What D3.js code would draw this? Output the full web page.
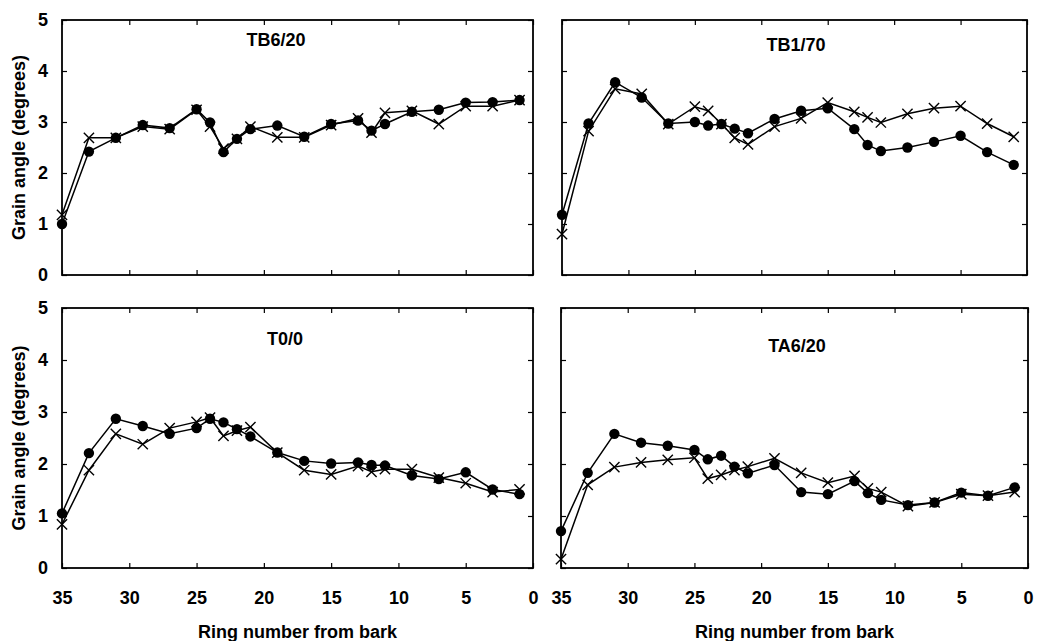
<!DOCTYPE html>
<html>
<head>
<meta charset="utf-8">
<script src="https://cdn.jsdelivr.net/npm/d3@7"></script>
<style>
  body { margin: 0; background: #fff; }
  svg text { font-family: "Liberation Sans", Arial, sans-serif; font-weight: bold; fill: #000; }
</style>
</head>
<body>
<div id="chart"></div>
<script>
// ring number from bark, same for every panel
var rings = [35, 33, 31, 29, 27, 25, 24, 23, 22, 21, 19, 17, 15, 13, 12, 11, 9, 7, 5, 3, 1];

var panelNames = ["TB6/20", "TB1/70", "T0/0", "TA6/20"];

// filled circles
var tb620Dot = [1.00, 2.42, 2.69, 2.94, 2.88, 3.25, 2.99, 2.41, 2.67, 2.86, 2.93, 2.71, 2.96, 3.03, 2.83, 2.96, 3.20, 3.24, 3.38, 3.39, 3.43];
var tb170Dot = [1.18, 2.97, 3.78, 3.48, 2.97, 3.00, 2.93, 2.96, 2.87, 2.78, 3.06, 3.22, 3.27, 2.86, 2.55, 2.43, 2.50, 2.61, 2.73, 2.41, 2.16];
var t00Dot   = [1.05, 2.21, 2.87, 2.73, 2.58, 2.69, 2.87, 2.80, 2.67, 2.53, 2.22, 2.06, 2.01, 2.03, 1.98, 1.97, 1.78, 1.71, 1.84, 1.51, 1.42];
var ta620Dot = [0.71, 1.83, 2.58, 2.41, 2.35, 2.27, 2.09, 2.16, 1.95, 1.82, 1.98, 1.46, 1.42, 1.67, 1.44, 1.31, 1.21, 1.26, 1.45, 1.39, 1.55];

// crosses
var tb620Cross = [1.18, 2.69, 2.69, 2.91, 2.86, 3.24, 2.91, 2.48, 2.67, 2.91, 2.70, 2.70, 2.94, 3.07, 2.79, 3.18, 3.22, 2.96, 3.31, 3.31, 3.43];
var tb170Cross = [0.80, 2.82, 3.65, 3.55, 2.96, 3.30, 3.22, 2.96, 2.69, 2.56, 2.91, 3.07, 3.38, 3.20, 3.09, 2.99, 3.16, 3.27, 3.31, 2.97, 2.71];
var t00Cross   = [0.84, 1.88, 2.58, 2.38, 2.69, 2.81, 2.89, 2.54, 2.64, 2.71, 2.22, 1.88, 1.80, 1.96, 1.85, 1.90, 1.90, 1.74, 1.63, 1.46, 1.51];
var ta620Cross = [0.17, 1.60, 1.94, 2.03, 2.08, 2.12, 1.72, 1.79, 1.88, 1.95, 2.11, 1.83, 1.64, 1.77, 1.53, 1.46, 1.19, 1.26, 1.42, 1.39, 1.46];

var xTicks = [35, 30, 25, 20, 15, 10, 5, 0];
var yTicks = [0, 1, 2, 3, 4, 5];

var dots = [tb620Dot, tb170Dot, t00Dot, ta620Dot];
var crosses = [tb620Cross, tb170Cross, t00Cross, ta620Cross];

// panel boxes and title spots (layout only)
var boxes = [
  {x0: 62,  x1: 533,  y0: 20,  y1: 275, tx: 276, ty: 46,  left: true,  bottom: false},
  {x0: 562, x1: 1027, y0: 20,  y1: 275, tx: 796, ty: 51,  left: false, bottom: false},
  {x0: 62,  x1: 533,  y0: 308, y1: 568, tx: 285, ty: 345, left: true,  bottom: true},
  {x0: 561, x1: 1028, y0: 308, y1: 568, tx: 797, ty: 352, left: false, bottom: true}
];

var fmt = d3.format("d");

var svg = d3.select("#chart").append("svg")
    .attr("width", 1040)
    .attr("height", 641);

boxes.forEach(function(b, i) {
  var xScale = d3.scaleLinear().domain([35, 0]).range([b.x0, b.x1]);
  var yScale = d3.scaleLinear().domain([0, 5]).range([b.y1, b.y0]);
  var g = svg.append("g");

  // inward ticks on all four sides
  var bAxis = g.append("g")
      .attr("transform", "translate(0," + b.y1 + ")")
      .call(d3.axisBottom(xScale).tickValues(xTicks).tickFormat(fmt).tickSizeInner(-5).tickSizeOuter(0).tickPadding(23));
  var tAxis = g.append("g")
      .attr("transform", "translate(0," + b.y0 + ")")
      .call(d3.axisTop(xScale).tickValues(xTicks).tickSizeInner(-5).tickSizeOuter(0));
  var lAxis = g.append("g")
      .attr("transform", "translate(" + b.x0 + ",0)")
      .call(d3.axisLeft(yScale).tickValues(yTicks).tickFormat(fmt).tickSizeInner(-5).tickSizeOuter(0).tickPadding(14));
  var rAxis = g.append("g")
      .attr("transform", "translate(" + b.x1 + ",0)")
      .call(d3.axisRight(yScale).tickValues(yTicks).tickSizeInner(-5).tickSizeOuter(0));

  [bAxis, tAxis, lAxis, rAxis].forEach(function(a) {
    a.select(".domain").remove();
    a.selectAll("line").attr("stroke", "#000").attr("stroke-width", 1.2);
    a.selectAll("text").style("font-size", "18px").attr("font-family", null);
  });
  tAxis.selectAll("text").remove();
  rAxis.selectAll("text").remove();
  if (!b.bottom) bAxis.selectAll("text").remove();
  if (!b.left) lAxis.selectAll("text").remove();

  g.append("rect")
    .attr("x", b.x0)
    .attr("y", b.y0)
    .attr("width", b.x1 - b.x0)
    .attr("height", b.y1 - b.y0)
    .attr("fill", "none")
    .attr("stroke", "#000")
    .attr("stroke-width", 1.8);

  var line = d3.line()
    .x(function(d, j) { return xScale(rings[j]); })
    .y(function(d) { return yScale(d); });

  g.append("path")
    .datum(crosses[i])
    .attr("d", line)
    .attr("fill", "none")
    .attr("stroke", "#000")
    .attr("stroke-width", 1.5);

  g.append("path")
    .datum(dots[i])
    .attr("d", line)
    .attr("fill", "none")
    .attr("stroke", "#000")
    .attr("stroke-width", 1.5);

  g.selectAll(".cross")
    .data(crosses[i])
    .enter()
    .append("path")
    .attr("class", "cross")
    .attr("transform", function(d, j) { return "translate(" + xScale(rings[j]) + "," + yScale(d) + ")"; })
    .attr("d", d3.symbol().type(d3.symbolX).size(70))
    .attr("fill", "none")
    .attr("stroke", "#000")
    .attr("stroke-width", 1.4);

  g.selectAll(".dot")
    .data(dots[i])
    .enter()
    .append("circle")
    .attr("class", "dot")
    .attr("cx", function(d, j) { return xScale(rings[j]); })
    .attr("cy", function(d) { return yScale(d); })
    .attr("r", 5.2)
    .attr("fill", "#000");

  g.append("text")
    .attr("x", b.tx)
    .attr("y", b.ty)
    .attr("text-anchor", "middle")
    .style("font-size", "18px")
    .text(panelNames[i]);

  if (b.left) {
    g.append("text")
      .attr("transform", "translate(25," + ((b.y0 + b.y1) / 2) + ") rotate(-90)")
      .attr("text-anchor", "middle")
      .style("font-size", "18px")
      .text("Grain angle (degrees)");
  }
  if (b.bottom) {
    g.append("text")
      .attr("x", (b.x0 + b.x1) / 2)
      .attr("y", 638)
      .attr("text-anchor", "middle")
      .style("font-size", "18px")
      .text("Ring number from bark");
  }
});
</script>
</body>
</html>
